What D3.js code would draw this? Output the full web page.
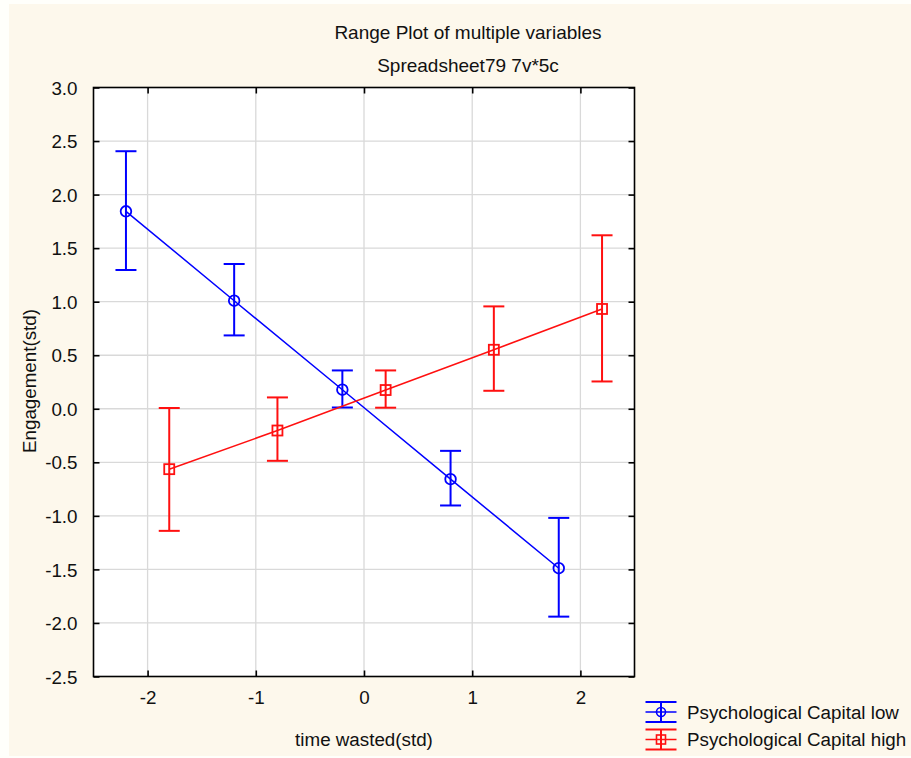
<!DOCTYPE html>
<html>
<head>
<meta charset="utf-8">
<script src="https://cdn.jsdelivr.net/npm/d3@7"></script>
<style>
  html, body { margin: 0; padding: 0; background: #fffffb; }
  svg { display: block; }
  text { font-family: "Liberation Sans", Arial, sans-serif; fill: #111; }
</style>
</head>
<body>
<svg id="chart" width="911" height="758"></svg>
<script>
// ---- data ----
const titleLines = ["Range Plot of multiple variables", "Spreadsheet79 7v*5c"];
const xLabel = "time wasted(std)";
const yLabel = "Engagement(std)";
const seriesNames = ["Psychological Capital low", "Psychological Capital high"];
const xLow  = [-2.2, -1.2, -0.2, 0.8, 1.8];
const meanLow  = [1.844, 1.009, 0.178, -0.657, -1.489];
const upperLow = [2.405, 1.352, 0.358, -0.393, -1.019];
const lowerLow = [1.296, 0.685, 0.012, -0.903, -1.941];
const xHigh = [-1.8, -0.8, 0.2, 1.2, 2.2];
const meanHigh  = [-0.564, -0.203, 0.175, 0.551, 0.932];
const upperHigh = [0.007, 0.106, 0.358, 0.956, 1.62];
const lowerHigh = [-1.14, -0.486, 0.01, 0.168, 0.255];
const xTicks = [-2, -1, 0, 1, 2];
const yTicks = [-2.5, -2.0, -1.5, -1.0, -0.5, 0.0, 0.5, 1.0, 1.5, 2.0, 2.5, 3.0];

// ---- layout ----
const svg = d3.select("#chart");
const W = 911, H = 758;
const plot = {left: 93.5, top: 87.5, right: 634.5, bottom: 676.5};
const FS = 18.8;
const hyph = f => d => f(d).replace("\u2212", "-");

svg.append("rect").attr("x", 9).attr("y", 4).attr("width", W - 9).attr("height", H - 6)
  .attr("fill", "#fdf8ec");

const x = d3.scaleLinear().domain([-2.5, 2.5]).range([plot.left, plot.right]);
const y = d3.scaleLinear().domain([-2.5, 3.0]).range([plot.bottom, plot.top]);

svg.append("rect").attr("x", plot.left).attr("y", plot.top)
  .attr("width", plot.right - plot.left).attr("height", plot.bottom - plot.top)
  .attr("fill", "#ffffff");

// grid
const grid = svg.append("g").attr("stroke", "#d9d9d9").attr("stroke-width", 1.3);
grid.selectAll(".gx").data(xTicks).join("line")
  .attr("x1", d => x(d)).attr("x2", d => x(d)).attr("y1", plot.top).attr("y2", plot.bottom);
grid.selectAll(".gy").data(yTicks.filter(d => d > -2.5 && d < 3.0)).join("line")
  .attr("y1", d => y(d)).attr("y2", d => y(d)).attr("x1", plot.left).attr("x2", plot.right);

// axes (ticks inward)
const tickLen = 6;
const axB = svg.append("g").attr("transform", `translate(0,${plot.bottom})`)
  .call(d3.axisBottom(x).tickValues(xTicks).tickSizeInner(-tickLen).tickSizeOuter(0).tickPadding(14).tickFormat(hyph(d3.format("d"))));
const axT = svg.append("g").attr("transform", `translate(0,${plot.top})`)
  .call(d3.axisTop(x).tickValues(xTicks).tickSizeInner(-tickLen).tickSizeOuter(0).tickFormat(""));
const axL = svg.append("g").attr("transform", `translate(${plot.left},0)`)
  .call(d3.axisLeft(y).tickValues(yTicks).tickSizeInner(-tickLen).tickSizeOuter(0).tickPadding(16).tickFormat(hyph(d3.format(".1f"))));
const axR = svg.append("g").attr("transform", `translate(${plot.right},0)`)
  .call(d3.axisRight(y).tickValues(yTicks).tickSizeInner(-tickLen).tickSizeOuter(0).tickFormat(""));
[axB, axT, axL, axR].forEach(a => {
  a.select(".domain").remove();
  a.selectAll(".tick line").attr("stroke", "#000").attr("stroke-width", 1.6);
  a.selectAll("text").attr("font-size", FS).attr("font-family", "Liberation Sans, Arial, sans-serif").attr("fill", "#111");
});
axL.selectAll(".tick text").attr("dy", "0.35em");

svg.append("rect").attr("x", plot.left).attr("y", plot.top)
  .attr("width", plot.right - plot.left).attr("height", plot.bottom - plot.top)
  .attr("fill", "none").attr("stroke", "#000").attr("stroke-width", 1.6);

// series
const series = [
  {name: seriesNames[0], xs: xLow, m: meanLow, up: upperLow, lo: lowerLow, color: "#0000ff", marker: "circle"},
  {name: seriesNames[1], xs: xHigh, m: meanHigh, up: upperHigh, lo: lowerHigh, color: "#ff1010", marker: "square"}
];
const capW = 10.5;
series.forEach(s => {
  const g = svg.append("g");
  const pts = s.xs.map((d, i) => ({x: d, m: s.m[i], up: s.up[i], lo: s.lo[i]}));
  g.append("path").datum(pts)
    .attr("d", d3.line().x(d => x(d.x)).y(d => y(d.m)))
    .attr("fill", "none").attr("stroke", s.color).attr("stroke-width", 1.5);
  const eb = g.selectAll(".eb").data(pts).join("g").attr("stroke", s.color).attr("stroke-width", 2).attr("fill", "none");
  eb.append("line").attr("x1", d => x(d.x)).attr("x2", d => x(d.x)).attr("y1", d => y(d.up)).attr("y2", d => y(d.lo));
  eb.append("line").attr("x1", d => x(d.x) - capW).attr("x2", d => x(d.x) + capW).attr("y1", d => y(d.up)).attr("y2", d => y(d.up));
  eb.append("line").attr("x1", d => x(d.x) - capW).attr("x2", d => x(d.x) + capW).attr("y1", d => y(d.lo)).attr("y2", d => y(d.lo));
  if (s.marker === "circle") {
    eb.append("circle").attr("cx", d => x(d.x)).attr("cy", d => y(d.m)).attr("r", 5.3).attr("stroke-width", 1.8);
  } else {
    eb.append("rect").attr("x", d => x(d.x) - 5).attr("y", d => y(d.m) - 5).attr("width", 10).attr("height", 10).attr("stroke-width", 1.8);
  }
});

// titles
svg.append("text").attr("x", 468).attr("y", 39).attr("text-anchor", "middle").attr("font-size", 19).text(titleLines[0]);
svg.append("text").attr("x", 468).attr("y", 72).attr("text-anchor", "middle").attr("font-size", 19).text(titleLines[1]);
svg.append("text").attr("x", 364).attr("y", 746).attr("text-anchor", "middle").attr("font-size", FS).text(xLabel);
svg.append("text").attr("transform", "translate(36,381) rotate(-90)").attr("text-anchor", "middle").attr("font-size", FS).text(yLabel);

// legend
const leg = svg.append("g");
const legY = [712, 739.5];
series.forEach((s, i) => {
  const g = leg.append("g").attr("stroke", s.color).attr("fill", "none").attr("stroke-width", 2);
  const cx = 661, cy = legY[i], hw = 15.5, hh = 10;
  g.append("line").attr("x1", cx - hw).attr("x2", cx + hw).attr("y1", cy - hh).attr("y2", cy - hh);
  g.append("line").attr("x1", cx - hw).attr("x2", cx + hw).attr("y1", cy + hh).attr("y2", cy + hh);
  g.append("line").attr("x1", cx - hw).attr("x2", cx + hw).attr("y1", cy).attr("y2", cy).attr("stroke-width", 1.5);
  g.append("line").attr("x1", cx).attr("x2", cx).attr("y1", cy - hh).attr("y2", cy + hh);
  if (s.marker === "circle") g.append("circle").attr("cx", cx).attr("cy", cy).attr("r", 4.5).attr("stroke-width", 1.6);
  else g.append("rect").attr("x", cx - 4.5).attr("y", cy - 4.5).attr("width", 9).attr("height", 9).attr("stroke-width", 1.6);
  leg.append("text").attr("x", 687).attr("y", cy).attr("dy", "0.35em").attr("font-size", FS).text(s.name);
});
</script>
</body>
</html>
